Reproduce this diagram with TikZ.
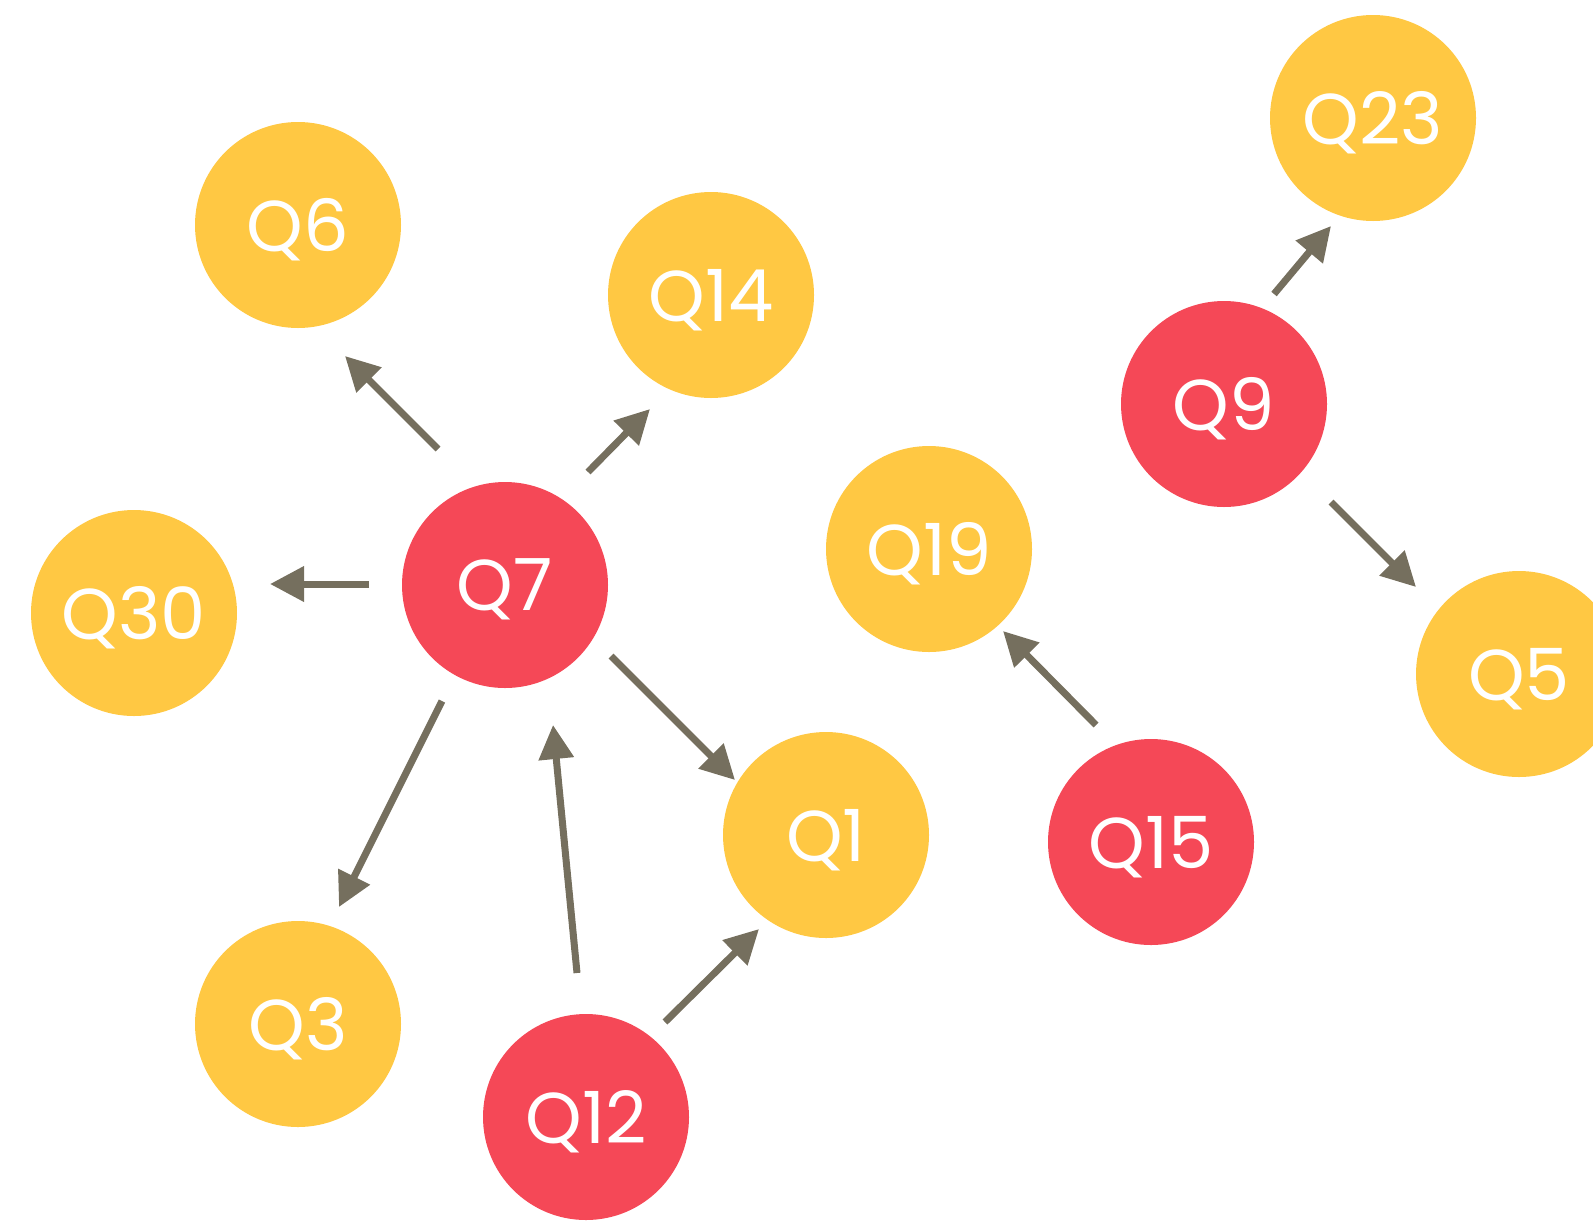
\documentclass[tikz,border=0pt]{standalone}
\usepackage{fontspec}
\setmainfont{Poppins}
\usetikzlibrary{arrows.meta}
\definecolor{rojo}{HTML}{F54857}
\definecolor{amarillo}{HTML}{FFC843}
\definecolor{flecha}{HTML}{756F5E}

\begin{document}
\begin{tikzpicture}[x=0.5pt,y=-0.5pt,
    preg/.style={circle,minimum size=103pt,inner sep=0pt,text depth=0pt,
      text=white,font=\fontsize{36}{36}\selectfont},
    clave/.style={preg,fill=rojo},
    normal/.style={preg,fill=amarillo},
    arr/.style={flecha,line width=3.5pt,-{Triangle[length=17pt,width=17pt]}}]
  \useasboundingbox (0,0) rectangle (1593,1221);

  % Preguntas clave (rojo)
  \node[clave] (q7)  at (505,585)  {Q7};
  \node[clave] (q9)  at (1224,404) {Q9};
  \node[clave] (q15) at (1151,842) {Q15};
  \node[clave] (q12) at (586,1117) {Q12};

  % Preguntas (amarillo)
  \node[normal] (q6)  at (298,225)  {Q6};
  \node[normal] (q14) at (711,295)  {Q14};
  \node[normal] (q23) at (1373,118) {Q23};
  \node[normal] (q30) at (134,613)  {Q30};
  \node[normal] (q19) at (929,549)  {Q19};
  \node[normal] (q5)  at (1519,674) {Q5};
  \node[normal] (q1)  at (826,835)  {Q1};
  \node[normal] (q3)  at (298,1024) {Q3};

  % Extremos de las flechas
  \coordinate (q7-q6a)   at (438,449);  \coordinate (q7-q6b)   at (345,356);
  \coordinate (q7-q14a)  at (588,472);  \coordinate (q7-q14b)  at (650,409);
  \coordinate (q7-q30a)  at (369,584);  \coordinate (q7-q30b)  at (270,584);
  \coordinate (q7-q3a)   at (442,701);  \coordinate (q7-q3b)   at (339,907);
  \coordinate (q7-q1a)   at (611,656);  \coordinate (q7-q1b)   at (735,780);
  \coordinate (q12-q7a)  at (577,973);  \coordinate (q12-q7b)  at (553,725);
  \coordinate (q12-q1a)  at (665,1022); \coordinate (q12-q1b)  at (759,929);
  \coordinate (q15-q19a) at (1096,725); \coordinate (q15-q19b) at (1003,631);
  \coordinate (q9-q23a)  at (1274,294); \coordinate (q9-q23b)  at (1331,226);
  \coordinate (q9-q5a)   at (1331,502); \coordinate (q9-q5b)   at (1416,587);

  % Flechas
  \foreach \e in {q7-q6,q7-q14,q7-q30,q7-q3,q7-q1,q12-q7,q12-q1,q15-q19,q9-q23,q9-q5}
    \draw[arr] (\e a) -- (\e b);
\end{tikzpicture}
\end{document}
